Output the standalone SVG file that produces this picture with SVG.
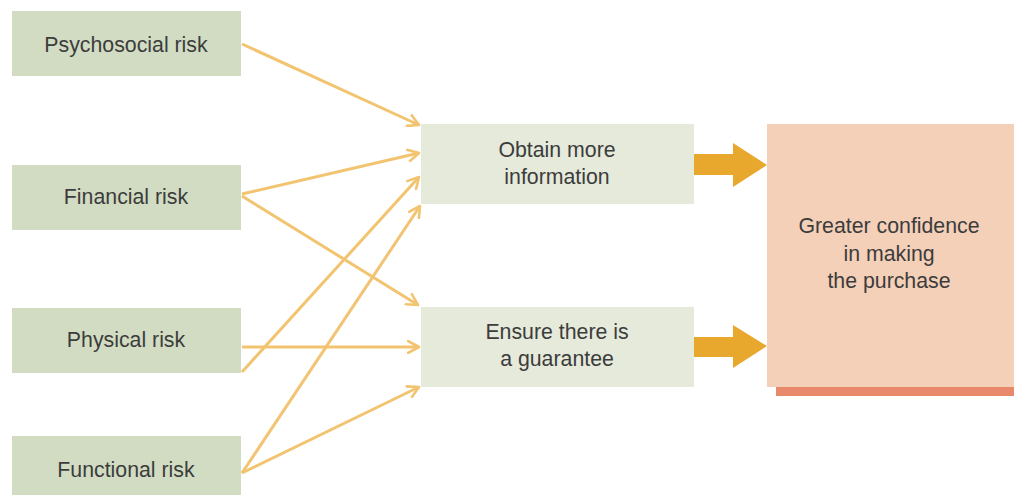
<svg xmlns="http://www.w3.org/2000/svg" width="1014" height="495" viewBox="0 0 1014 495">
  <defs>
    <marker id="chev" viewBox="0 0 14 14" refX="12" refY="7" markerWidth="14" markerHeight="14" markerUnits="userSpaceOnUse" orient="auto">
      <path d="M1,1 L12,7 L1,13" fill="none" stroke="#F2C470" stroke-width="2.6" stroke-linecap="round" stroke-linejoin="round"/>
    </marker>
    <style>
      .risk { fill: #D2DCC3; }
      .action { fill: #E5EADB; }
      .goal { fill: #F5D0B8; }
      .shadow { fill: #E8896B; }
      .big { fill: #E8A82D; }
      .txt { font-family: "Liberation Sans", Arial, sans-serif; font-size: 21.3px; fill: #3c3c3c; text-anchor: middle; }
      .link { fill: none; stroke: #F2C470; stroke-width: 3; marker-end: url(#chev); }
    </style>
  </defs>
  <rect width="1014" height="495" fill="#FFFFFF"/>

  <!-- risk nodes -->
  <g id="psychosocial">
    <rect class="risk" x="12" y="11" width="229" height="65"/>
    <text class="txt" x="126" y="52">Psychosocial risk</text>
  </g>
  <g id="financial">
    <rect class="risk" x="12" y="165" width="229" height="65"/>
    <text class="txt" x="126" y="204">Financial risk</text>
  </g>
  <g id="physical">
    <rect class="risk" x="12" y="308" width="229" height="65"/>
    <text class="txt" x="126" y="347">Physical risk</text>
  </g>
  <g id="functional">
    <rect class="risk" x="12" y="436" width="229" height="65"/>
    <text class="txt" x="126" y="477">Functional risk</text>
  </g>

  <!-- action nodes -->
  <g id="information">
    <rect class="action" x="421" y="124" width="273" height="80"/>
    <text class="txt" x="557" y="157">Obtain more</text>
    <text class="txt" x="557" y="184">information</text>
  </g>
  <g id="guarantee">
    <rect class="action" x="421" y="307" width="273" height="80"/>
    <text class="txt" x="557" y="339">Ensure there is</text>
    <text class="txt" x="557" y="366">a guarantee</text>
  </g>

  <!-- outcome node -->
  <g id="confidence">
    <rect class="shadow" x="776" y="380" width="240" height="16"/>
    <rect class="goal" x="767" y="124" width="249" height="263"/>
    <text class="txt" x="889" y="233">Greater confidence</text>
    <text class="txt" x="889" y="261">in making</text>
    <text class="txt" x="889" y="288">the purchase</text>
  </g>

  <!-- connectors -->
  <g id="connectors">
    <line class="link" x1="242" y1="44" x2="419" y2="125"/>
    <line class="link" x1="242" y1="194" x2="419" y2="153"/>
    <line class="link" x1="242" y1="196" x2="418" y2="305"/>
    <line class="link" x1="242" y1="372" x2="419" y2="177"/>
    <line class="link" x1="242" y1="347" x2="419" y2="347"/>
    <line class="link" x1="242" y1="473" x2="420" y2="206"/>
    <line class="link" x1="242" y1="473" x2="419" y2="387"/>
    <polygon class="big" points="694,154 733,154 733,143 767,165 733,187 733,175 694,175"/>
    <polygon class="big" points="694,337 733,337 733,325 767,346 733,368 733,357 694,357"/>
  </g>
</svg>
